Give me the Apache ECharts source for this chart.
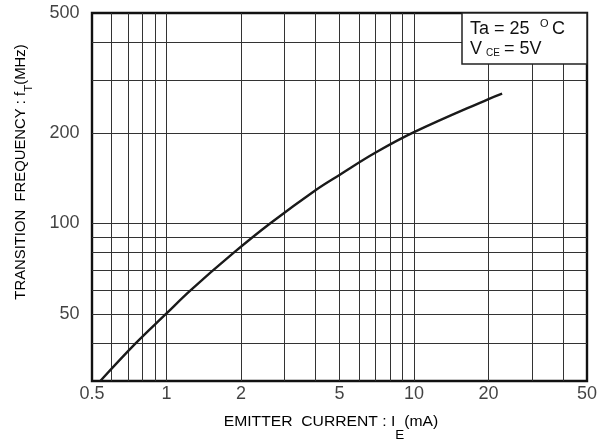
<!DOCTYPE html>
<html>
<head>
<meta charset="utf-8">
<script src="https://cdn.jsdelivr.net/npm/echarts@6/dist/echarts.min.js"></script>
<style>
html,body{margin:0;padding:0;background:#fff;}
#chart{width:607px;height:444px;}
</style>
</head>
<body>
<div id="chart"></div>
<script>
// Data
var currentMA = [0.54, 0.75, 1, 1.25, 1.87, 2.62, 4, 5, 7, 10, 20, 22.7];
var freqMHz   = [30,   40,   50.3, 60, 80,   100,  129, 145, 172, 201, 259, 270];

var xTickLabels = [0.5, 1, 2, 5, 10, 20, 50];
var yTickLabels = [50, 100, 200, 500];
var xGridValues = [0.6, 0.7, 0.8, 0.9, 1, 2, 3, 4, 5, 6, 7, 8, 9, 10, 20, 30, 40];
var yGridValues = [40, 50, 60, 70, 80, 90, 100, 200, 300, 400];
var xMin = 0.5, xMax = 50, yMin = 30, yMax = 500;

var FONT = "'Liberation Sans', Arial, sans-serif";

var chart = echarts.init(document.getElementById('chart'), null, {renderer: 'canvas'});

var gridLines = [];
xGridValues.forEach(function (v) { gridLines.push({xAxis: v}); });
yGridValues.forEach(function (v) { gridLines.push({yAxis: v}); });

var curveData = currentMA.map(function (x, i) { return [x, freqMHz[i]]; });
var xLabelData = xTickLabels.map(function (v) { return [v, yMin]; });
var yLabelData = yTickLabels.map(function (v) { return [xMin, v]; });

chart.setOption({
  animation: false,
  backgroundColor: '#fff',
  grid: {left: 92, top: 13, right: 20, bottom: 63, show: true, borderColor: '#111', borderWidth: 2.4, backgroundColor: 'transparent', z: 5},
  xAxis: {
    type: 'log', logBase: 10, min: xMin, max: xMax,
    axisLine: {show: false}, axisTick: {show: false}, axisLabel: {show: false},
    splitLine: {show: false}, minorSplitLine: {show: false}
  },
  yAxis: {
    type: 'log', logBase: 10, min: yMin, max: yMax,
    axisLine: {show: false}, axisTick: {show: false}, axisLabel: {show: false},
    splitLine: {show: false}, minorSplitLine: {show: false}
  },
  series: [
    {
      type: 'line', data: [], z: 1, silent: true,
      markLine: {
        silent: true, symbol: ['none', 'none'],
        lineStyle: {color: '#333', width: 1, type: 'solid'},
        label: {show: false},
        data: gridLines
      }
    },
    {
      type: 'line', data: curveData, smooth: 0.4, showSymbol: false, z: 6,
      lineStyle: {color: '#1a1a1a', width: 2.4}
    },
    {
      type: 'scatter', data: xLabelData, symbolSize: 1, clip: false, z: 7,
      itemStyle: {color: 'transparent'},
      label: {show: true, position: 'bottom', distance: 4, color: '#111', fontSize: 18, fontFamily: FONT,
        formatter: function (p) { return String(p.value[0]); }}
    },
    {
      type: 'scatter', data: yLabelData, symbolSize: 1, clip: false, z: 7,
      itemStyle: {color: 'transparent'},
      label: {show: true, position: 'left', distance: 12, color: '#111', fontSize: 18, fontFamily: FONT,
        formatter: function (p) { return String(p.value[1]); }}
    }
  ],
  graphic: [
    {type: 'rect', z: 100, shape: {x: 462, y: 13, width: 125, height: 51},
      style: {fill: '#fff', stroke: '#222', lineWidth: 1.5}},
    {type: 'text', z: 101, x: 470, y: 20, style: {text: 'Ta = 25', font: '18px ' + FONT, fill: '#111', verticalAlign: 'top'}},
    {type: 'text', z: 101, x: 540, y: 18, style: {text: 'O', font: '11px ' + FONT, fill: '#111', verticalAlign: 'top'}},
    {type: 'text', z: 101, x: 552, y: 20, style: {text: 'C', font: '18px ' + FONT, fill: '#111', verticalAlign: 'top'}},
    {type: 'text', z: 101, x: 470, y: 40, style: {text: 'V', font: '18px ' + FONT, fill: '#111', verticalAlign: 'top'}},
    {type: 'text', z: 101, x: 486, y: 48, style: {text: 'CE', font: '10px ' + FONT, fill: '#111', verticalAlign: 'top'}},
    {type: 'text', z: 101, x: 504, y: 40, style: {text: '= 5V', font: '18px ' + FONT, fill: '#111', verticalAlign: 'top'}},
    {type: 'text', z: 101, x: 331, y: 422, scaleX: 1.12,
      style: {
        text: '{a|EMITTER  CURRENT : I}{s|E}{a|(mA)}',
        align: 'center', verticalAlign: 'middle',
        rich: {
          a: {fontSize: 14, fontFamily: FONT, color: '#111', lineHeight: 20},
          s: {fontSize: 12, fontFamily: FONT, color: '#111', lineHeight: 8, verticalAlign: 'bottom', padding: [0, 0, -10, 0]}
        }
      }},
    {type: 'text', z: 101, x: 21, y: 172, rotation: Math.PI / 2, scaleX: 1.06,
      style: {
        text: '{a|TRANSITION  FREQUENCY : f}{s|T}{a|(MHz)}',
        align: 'center', verticalAlign: 'middle',
        rich: {
          a: {fontSize: 14, fontFamily: FONT, color: '#111', lineHeight: 18},
          s: {fontSize: 11, fontFamily: FONT, color: '#111', lineHeight: 8, verticalAlign: 'bottom', padding: [0, 0, -4, 0]}
        }
      }}
  ]
});
</script>
</body>
</html>
